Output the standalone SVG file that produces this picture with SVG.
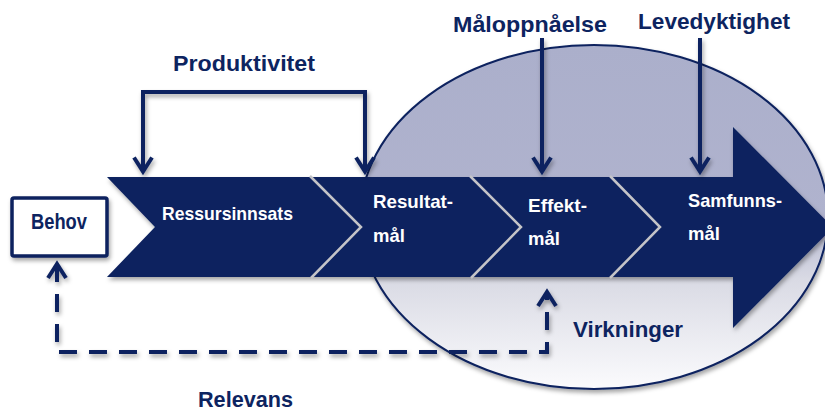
<svg xmlns="http://www.w3.org/2000/svg" width="825" height="417" viewBox="0 0 825 417">
  <defs>
    <style>
      .lbl { font-family: "Liberation Sans", Arial, sans-serif; font-weight: bold; font-size: 22.5px; fill: #0d2460; }
      .chev { font-family: "Liberation Sans", Arial, sans-serif; font-weight: bold; font-size: 18.5px; fill: #ffffff; }
      .navy { fill: #0b215e; }
      .sep { fill: none; stroke: #c4c4c8; stroke-width: 2.5; }
      .solid { fill: none; stroke: #0d2460; stroke-width: 4; marker-end: url(#head); }
      .dash { fill: none; stroke: #0d2460; stroke-width: 4; stroke-dasharray: 18 12; }
    </style>
    <linearGradient id="ovalFill" x1="0" y1="0" x2="0" y2="1">
      <stop offset="0" stop-color="#abafcb"/>
      <stop offset="0.5" stop-color="#b0b3ce"/>
      <stop offset="0.68" stop-color="#d9dae4"/>
      <stop offset="1" stop-color="#fbfbfd"/>
    </linearGradient>
    <filter id="shadow" x="-10%" y="-10%" width="120%" height="130%">
      <feDropShadow dx="1.5" dy="3" stdDeviation="2" flood-color="#000" flood-opacity="0.35"/>
    </filter>
    <marker id="head" markerUnits="userSpaceOnUse" viewBox="-20 -14 28 28" markerWidth="28" markerHeight="28" refX="0" refY="0" orient="auto">
      <path d="M-14,-9 L0,0 L-14,9" fill="none" stroke="#0d2460" stroke-width="4"/>
    </marker>
  </defs>

  <!-- effect area -->
  <g id="virkninger-oval">
    <ellipse cx="594" cy="217" rx="234" ry="172" fill="url(#ovalFill)" stroke="#0b215e" stroke-width="2" filter="url(#shadow)"/>
  </g>

  <!-- value chain band -->
  <g id="band" filter="url(#shadow)">
    <polygon class="navy" points="107,177 733,177 733,127 833,227.5 733,328 733,277 107,277 155,227"/>
  </g>
  <g id="separators">
    <polyline class="sep" points="310,176 361,227 311,278"/>
    <polyline class="sep" points="470,176 521,227 471,278"/>
    <polyline class="sep" points="610,176 660,227 610,278" stroke-width="1.5"/>
  </g>

  <g id="ressursinnsats">
    <text class="chev" x="162" y="220" textLength="131" lengthAdjust="spacingAndGlyphs">Ressursinnsats</text>
  </g>
  <g id="resultatmal">
    <text class="chev" x="373" y="208" textLength="80" lengthAdjust="spacingAndGlyphs">Resultat-</text>
    <text class="chev" x="373" y="242">mål</text>
  </g>
  <g id="effektmal">
    <text class="chev" x="528" y="212" textLength="59" lengthAdjust="spacingAndGlyphs">Effekt-</text>
    <text class="chev" x="528" y="245">mål</text>
  </g>
  <g id="samfunnsmal">
    <text class="chev" x="688" y="207" textLength="94" lengthAdjust="spacingAndGlyphs">Samfunns-</text>
    <text class="chev" x="688" y="240">mål</text>
  </g>

  <g id="behov">
    <rect x="12" y="198" width="95" height="58" rx="2" fill="#ffffff" stroke="#0b215e" stroke-width="3.5" filter="url(#shadow)"/>
    <text class="lbl" x="31" y="229" font-size="18.5" textLength="56" lengthAdjust="spacingAndGlyphs">Behov</text>
  </g>

  <!-- connectors -->
  <g id="connectors" filter="url(#shadow)">
    <path class="solid" d="M143,171.5 V92 H365 V171.5"/>
    <path class="solid" d="M143,92 V171.5"/>
    <path class="solid" d="M542,38 V171.5"/>
    <path class="solid" d="M700,38 V171.5"/>
    <path class="dash" d="M57,264 V352 H547 V292"/>
    <path d="M57,272 V264" fill="none" stroke="#0d2460" stroke-width="4" marker-end="url(#head)"/>
    <path d="M547,300 V292" fill="none" stroke="#0d2460" stroke-width="4" marker-end="url(#head)"/>
  </g>

  <g id="labels">
    <text class="lbl" x="173" y="71" textLength="142" lengthAdjust="spacingAndGlyphs">Produktivitet</text>
    <text class="lbl" x="453" y="32" textLength="154" lengthAdjust="spacingAndGlyphs">Måloppnåelse</text>
    <text class="lbl" x="638" y="29" textLength="152" lengthAdjust="spacingAndGlyphs">Levedyktighet</text>
    <text class="lbl" x="573" y="337" textLength="110" lengthAdjust="spacingAndGlyphs">Virkninger</text>
    <text class="lbl" x="198" y="407" textLength="95" lengthAdjust="spacingAndGlyphs">Relevans</text>
  </g>
</svg>
